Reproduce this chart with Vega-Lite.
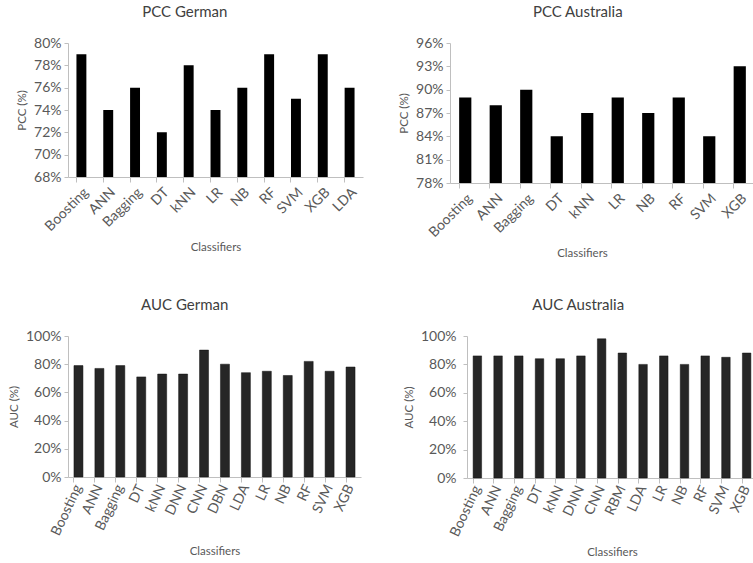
{
  "$schema": "https://vega.github.io/schema/vega-lite/v6.json",
  "background": "white",
  "padding": {"left": 8, "top": 5, "right": 0, "bottom": 0},
  "datasets": {
    "pccGerman": [
      {"classifier": "Boosting", "pcc": 79},
      {"classifier": "ANN", "pcc": 74},
      {"classifier": "Bagging", "pcc": 76},
      {"classifier": "DT", "pcc": 72},
      {"classifier": "kNN", "pcc": 78},
      {"classifier": "LR", "pcc": 74},
      {"classifier": "NB", "pcc": 76},
      {"classifier": "RF", "pcc": 79},
      {"classifier": "SVM", "pcc": 75},
      {"classifier": "XGB", "pcc": 79},
      {"classifier": "LDA", "pcc": 76}
    ],
    "pccAustralia": [
      {"classifier": "Boosting", "pcc": 89},
      {"classifier": "ANN", "pcc": 88},
      {"classifier": "Bagging", "pcc": 90},
      {"classifier": "DT", "pcc": 84},
      {"classifier": "kNN", "pcc": 87},
      {"classifier": "LR", "pcc": 89},
      {"classifier": "NB", "pcc": 87},
      {"classifier": "RF", "pcc": 89},
      {"classifier": "SVM", "pcc": 84},
      {"classifier": "XGB", "pcc": 93}
    ],
    "aucGerman": [
      {"classifier": "Boosting", "auc": 79},
      {"classifier": "ANN", "auc": 77},
      {"classifier": "Bagging", "auc": 79},
      {"classifier": "DT", "auc": 71},
      {"classifier": "kNN", "auc": 73},
      {"classifier": "DNN", "auc": 73},
      {"classifier": "CNN", "auc": 90},
      {"classifier": "DBN", "auc": 80},
      {"classifier": "LDA", "auc": 74},
      {"classifier": "LR", "auc": 75},
      {"classifier": "NB", "auc": 72},
      {"classifier": "RF", "auc": 82},
      {"classifier": "SVM", "auc": 75},
      {"classifier": "XGB", "auc": 78}
    ],
    "aucAustralia": [
      {"classifier": "Boosting", "auc": 86},
      {"classifier": "ANN", "auc": 86},
      {"classifier": "Bagging", "auc": 86},
      {"classifier": "DT", "auc": 84},
      {"classifier": "kNN", "auc": 84},
      {"classifier": "DNN", "auc": 86},
      {"classifier": "CNN", "auc": 98},
      {"classifier": "RBM", "auc": 88},
      {"classifier": "LDA", "auc": 80},
      {"classifier": "LR", "auc": 86},
      {"classifier": "NB", "auc": 80},
      {"classifier": "RF", "auc": 86},
      {"classifier": "SVM", "auc": 85},
      {"classifier": "XGB", "auc": 88}
    ]
  },
  "config": {
    "font": "Lato",
    "view": {"stroke": null},
    "title": {"fontSize": 15, "fontWeight": "normal", "color": "#404040", "offset": 16, "frame": "bounds", "anchor": "middle"},
    "axis": {
      "grid": false,
      "domainColor": "#bfbfbf",
      "tickColor": "#bfbfbf",
      "labelColor": "#595959",
      "labelFontSize": 14,
      "titleFontSize": 11.5,
      "titleFontWeight": "normal",
      "titleColor": "#595959"
    },
    "axisX": {"bandPosition": 0, "tickSize": 5, "titlePadding": 8, "labelPadding": 3},
    "axisY": {"tickSize": 4, "titlePadding": 6, "labelPadding": 3}
  },
  "spacing": 38,
  "vconcat": [
    {
      "spacing": 35,
      "hconcat": [
        {
          "title": {"text": "PCC German", "dx": -5},
          "data": {"name": "pccGerman"},
          "width": 295,
          "height": 134,
          "mark": {"type": "bar", "color": "#000000", "clip": true},
          "encoding": {
            "x": {
              "field": "classifier",
              "type": "nominal",
              "sort": null,
              "scale": {"paddingInner": 0.63, "paddingOuter": 0.315},
              "axis": {"title": "Classifiers", "labelAngle": -45}
            },
            "y": {
              "field": "pcc",
              "type": "quantitative",
              "scale": {"domain": [68, 80], "nice": false, "zero": false},
              "axis": {"title": "PCC (%)", "values": [68, 70, 72, 74, 76, 78, 80], "labelExpr": "datum.value + '%'"}
            }
          }
        },
        {
          "title": {"text": "PCC Australia", "dx": 1},
          "data": {"name": "pccAustralia"},
          "width": 305,
          "height": 140,
          "mark": {"type": "bar", "color": "#000000", "clip": true},
          "encoding": {
            "x": {
              "field": "classifier",
              "type": "nominal",
              "sort": null,
              "scale": {"paddingInner": 0.6, "paddingOuter": 0.3},
              "axis": {"title": "Classifiers", "labelAngle": -45, "titleX": 132}
            },
            "y": {
              "field": "pcc",
              "type": "quantitative",
              "scale": {"domain": [78, 96], "nice": false, "zero": false},
              "axis": {"title": "PCC (%)", "values": [78, 81, 84, 87, 90, 93, 96], "labelExpr": "datum.value + '%'"}
            }
          }
        }
      ]
    },
    {
      "spacing": 42,
      "hconcat": [
        {
          "title": "AUC German",
          "data": {"name": "aucGerman"},
          "width": 293,
          "height": 141,
          "mark": {"type": "bar", "color": "#262626", "stroke": "#111111", "strokeWidth": 0.5},
          "encoding": {
            "x": {
              "field": "classifier",
              "type": "nominal",
              "sort": null,
              "scale": {"paddingInner": 0.57, "paddingOuter": 0.285},
              "axis": {"title": "Classifiers", "labelAngle": -65}
            },
            "y": {
              "field": "auc",
              "type": "quantitative",
              "scale": {"domain": [0, 100], "nice": false},
              "axis": {"title": "AUC (%)", "values": [0, 20, 40, 60, 80, 100], "labelExpr": "datum.value + '%'"}
            }
          }
        },
        {
          "title": {"text": "AUC Australia", "dx": -2},
          "data": {"name": "aucAustralia"},
          "width": 290,
          "height": 142,
          "mark": {"type": "bar", "color": "#262626", "stroke": "#111111", "strokeWidth": 0.5},
          "encoding": {
            "x": {
              "field": "classifier",
              "type": "nominal",
              "sort": null,
              "scale": {"paddingInner": 0.59, "paddingOuter": 0.295},
              "axis": {"title": "Classifiers", "labelAngle": -65}
            },
            "y": {
              "field": "auc",
              "type": "quantitative",
              "scale": {"domain": [0, 100], "nice": false},
              "axis": {"title": "AUC (%)", "labelPadding": 7, "values": [0, 20, 40, 60, 80, 100], "labelExpr": "datum.value + '%'"}
            }
          }
        }
      ]
    }
  ]
}
